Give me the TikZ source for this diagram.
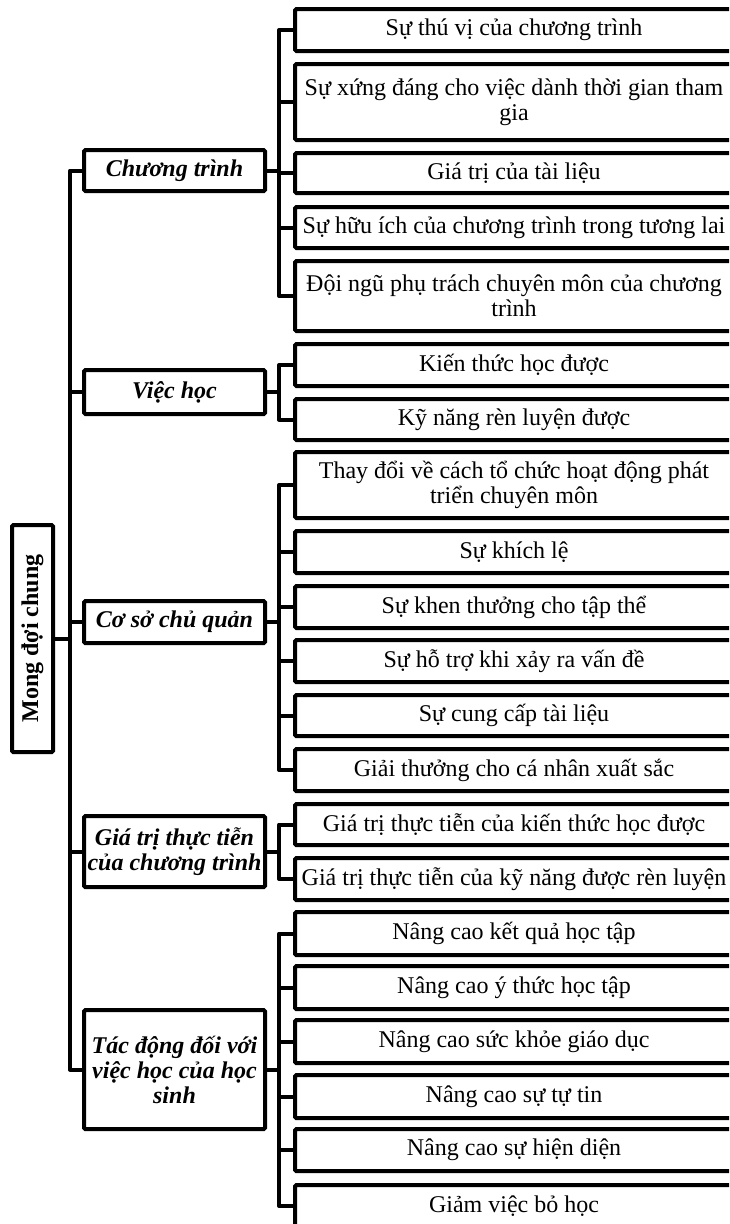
\documentclass[tikz,border=0pt]{standalone}
\usepackage{fontspec}
\setmainfont{Liberation Serif}
\tikzstyle{chart} = [x = .75pt, y = -.75pt]
\tikzstyle{boxStyle} = [draw = black, fill = white, line width = 3pt, rounded corners = 1pt, align = center, inner sep = 1pt, font = \fontsize{18}{18.8}\selectfont]
\tikzstyle{itemStyle} = [boxStyle, minimum width = 438 * .75pt]
\tikzstyle{topicStyle} = [boxStyle, minimum width = 181 * .75pt, font = \fontsize{18}{18.8}\selectfont\bfseries\itshape]
\tikzstyle{rootStyle} = [boxStyle, minimum width = 41 * .75pt, minimum height = 227 * .75pt, font = \fontsize{18}{18.8}\selectfont\bfseries]
\tikzstyle{lineStyle} = [color = black, line width = 3pt, line join = round]
\newcommand{\itemBox}[4]{\node [itemStyle, minimum height = {(#3 - #2 - 4) * .75pt}] (#1) at (514, {(#2 + #3) / 2}) {#4};}
\newcommand{\topicBox}[4]{\node [topicStyle, minimum height = {(#3 - #2 - 4) * .75pt}] (#1) at (174.5, {(#2 + #3) / 2}) {#4};}
\newcommand{\branch}[3]{\draw [lineStyle] (#1.east) -- ++(#3, 0) |- (#2.west);}

\begin{document}
\begin{tikzpicture}[chart]
  \path [use as bounding box, clip] (0, 0) rectangle (729, 1224);

  % root
  \node [rootStyle] (root) at (32.5, 638.5) {\rotatebox{90}{Mong đợi chung}};

  % topics
  \topicBox{program}{148}{193}{Chương trình}
  \topicBox{study}{368}{416}{Việc học}
  \topicBox{host}{599}{645}{Cơ sở chủ quản}
  \topicBox{practice}{814}{889}{Giá trị thực tiễn\\của chương trình}
  \topicBox{impact}{1008}{1131}{Tác động đối với\\việc học của học\\sinh}

  % items
  \itemBox{p1}{7}{53}{Sự thú vị của chương trình}
  \itemBox{p2}{62}{142}{Sự xứng đáng cho việc dành thời gian tham\\gia}
  \itemBox{p3}{151}{195}{Giá trị của tài liệu}
  \itemBox{p4}{205}{250}{Sự hữu ích của chương trình trong tương lai}
  \itemBox{p5}{259}{333}{Đội ngũ phụ trách chuyên môn của chương\\trình}

  \itemBox{s1}{342}{388}{Kiến thức học được}
  \itemBox{s2}{397}{442}{Kỹ năng rèn luyện được}

  \itemBox{h1}{450}{520}{Thay đổi về cách tổ chức hoạt động phát\\triển chuyên môn}
  \itemBox{h2}{529}{575}{Sự khích lệ}
  \itemBox{h3}{584}{630}{Sự khen thưởng cho tập thể}
  \itemBox{h4}{638}{684}{Sự hỗ trợ khi xảy ra vấn đề}
  \itemBox{h5}{693}{738}{Sự cung cấp tài liệu}
  \itemBox{h6}{747}{793}{Giải thưởng cho cá nhân xuất sắc}

  \itemBox{v1}{802}{847}{Giá trị thực tiễn của kiến thức học được}
  \itemBox{v2}{856}{902}{Giá trị thực tiễn của kỹ năng được rèn luyện}

  \itemBox{i1}{910}{957}{Nâng cao kết quả học tập}
  \itemBox{i2}{964}{1011}{Nâng cao ý thức học tập}
  \itemBox{i3}{1018}{1065}{Nâng cao sức khỏe giáo dục}
  \itemBox{i4}{1073}{1120}{Nâng cao sự tự tin}
  \itemBox{i5}{1127}{1173}{Nâng cao sự hiện diện}
  \itemBox{i6}{1183}{1229}{Giảm việc bỏ học}

  % connectors
  \foreach \topic in {program, study, host, practice, impact} {
    \branch{root}{\topic}{15}
  }
  \foreach \kid in {p1, p2, p3, p4, p5} {
    \branch{program}{\kid}{12}
  }
  \foreach \kid in {s1, s2} {
    \branch{study}{\kid}{12}
  }
  \foreach \kid in {h1, h2, h3, h4, h5, h6} {
    \branch{host}{\kid}{12}
  }
  \foreach \kid in {v1, v2} {
    \branch{practice}{\kid}{12}
  }
  \foreach \kid in {i1, i2, i3, i4, i5, i6} {
    \branch{impact}{\kid}{12}
  }
\end{tikzpicture}
\end{document}
